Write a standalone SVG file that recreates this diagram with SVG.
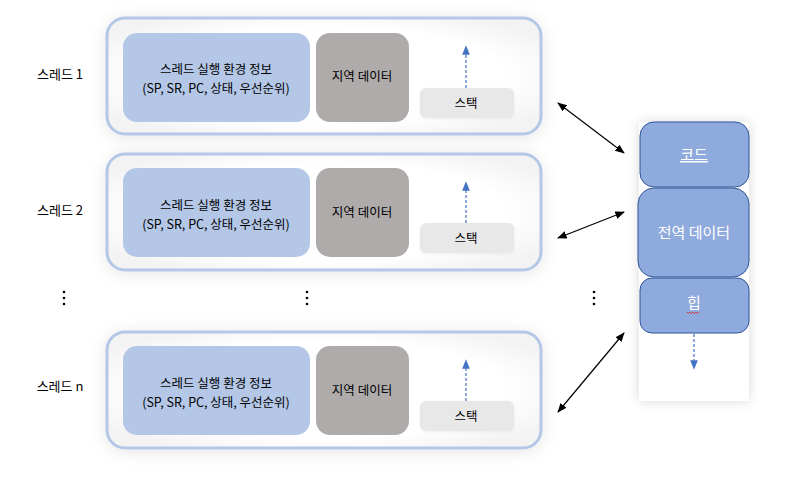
<svg xmlns="http://www.w3.org/2000/svg" width="791" height="480" viewBox="0 0 791 480">
<defs>
<filter id="soft" x="-10%" y="-25%" width="120%" height="150%">
<feDropShadow dx="0" dy="2" stdDeviation="8" flood-color="#000" flood-opacity="0.10"/>
</filter>
<filter id="soft2" x="-30%" y="-10%" width="160%" height="120%">
<feDropShadow dx="0" dy="0" stdDeviation="6" flood-color="#000" flood-opacity="0.15"/>
</filter>
<filter id="stkS" x="-10%" y="-30%" width="120%" height="160%">
<feDropShadow dx="0" dy="1" stdDeviation="1.5" flood-color="#000" flood-opacity="0.06"/>
</filter>
<radialGradient id="inner" cx="0.5" cy="0.5" r="0.6">
<stop offset="0.7" stop-color="#ffffff"/>
<stop offset="1" stop-color="#f3f3f3"/>
</radialGradient>
<marker id="blueHead" viewBox="0 0 10 10" refX="5" refY="5" markerWidth="8" markerHeight="8" orient="auto">
<path d="M0,1 L10,5 L0,9 z" fill="#4472c4"/>
</marker>
<marker id="blk" viewBox="0 0 10 10" refX="9" refY="5" markerWidth="8" markerHeight="8" orient="auto-start-reverse">
<path d="M0,1 L10,5 L0,9 z" fill="#000"/>
</marker>
</defs>
<style>
.outer{fill:url(#inner);stroke:#b4c7e7;stroke-width:3;filter:url(#soft)}
.ctx{fill:#b4c7e7}
.loc{fill:#afabab}
.stk{fill:#e8e8e8;filter:url(#stkS)}
.t{font-family:"Noto Sans CJK KR","Noto Sans",sans-serif;font-size:12.5px;fill:#000;text-anchor:middle}
.lbl{font-family:"Noto Sans CJK KR","Noto Sans",sans-serif;font-size:13px;fill:#000;text-anchor:middle}
.mem{fill:#8faadc;stroke:#2f5597;stroke-width:1}
.mt{font-family:"Noto Sans CJK KR","Noto Sans",sans-serif;font-size:15px;fill:#fff;text-anchor:middle}
.dash{stroke:#4472c4;stroke-width:1.2;stroke-dasharray:3 2;fill:none}
.conn{stroke:#000;stroke-width:1.2;fill:none}
.dot{fill:#000}
</style>
<rect width="791" height="480" fill="#ffffff"/>

<g id="thread1">
<rect class="outer" x="107" y="18" width="434" height="116" rx="18"/>
<rect class="ctx" x="123" y="33" width="187" height="89" rx="14"/>
<text class="t" x="216" y="74">스레드 실행 환경 정보</text>
<text class="t" x="216" y="93">(SP, SR, PC, 상태, 우선순위)</text>
<rect class="loc" x="316" y="33" width="93" height="89" rx="14"/>
<text class="t" x="362" y="81">지역 데이터</text>
<rect class="stk" x="420" y="88" width="94" height="30" rx="6"/>
<text class="t" x="466" y="108">스택</text>
<line class="dash" x1="466" y1="88" x2="466" y2="50" marker-end="url(#blueHead)"/>
</g>
<text class="lbl" x="60" y="79">스레드 1</text>

<g id="thread2">
<rect class="outer" x="107" y="154" width="434" height="116" rx="18"/>
<rect class="ctx" x="123" y="168" width="187" height="89" rx="14"/>
<text class="t" x="216" y="210">스레드 실행 환경 정보</text>
<text class="t" x="216" y="229">(SP, SR, PC, 상태, 우선순위)</text>
<rect class="loc" x="316" y="168" width="93" height="89" rx="14"/>
<text class="t" x="362" y="217">지역 데이터</text>
<rect class="stk" x="420" y="223" width="94" height="30" rx="6"/>
<text class="t" x="466" y="243">스택</text>
<line class="dash" x1="466" y1="223" x2="466" y2="186" marker-end="url(#blueHead)"/>
</g>
<text class="lbl" x="60" y="215">스레드 2</text>

<g id="threadn">
<rect class="outer" x="107" y="332" width="434" height="116" rx="18"/>
<rect class="ctx" x="123" y="346" width="187" height="89" rx="14"/>
<text class="t" x="216" y="388">스레드 실행 환경 정보</text>
<text class="t" x="216" y="407">(SP, SR, PC, 상태, 우선순위)</text>
<rect class="loc" x="316" y="346" width="93" height="89" rx="14"/>
<text class="t" x="362" y="395">지역 데이터</text>
<rect class="stk" x="420" y="401" width="94" height="30" rx="6"/>
<text class="t" x="466" y="421">스택</text>
<line class="dash" x1="466" y1="401" x2="466" y2="364" marker-end="url(#blueHead)"/>
</g>
<text class="lbl" x="60" y="391">스레드 n</text>

<g id="dots">
<circle class="dot" cx="64" cy="292" r="1.3"/><circle class="dot" cx="64" cy="298" r="1.3"/><circle class="dot" cx="64" cy="304" r="1.3"/>
<circle class="dot" cx="307" cy="292" r="1.3"/><circle class="dot" cx="307" cy="298" r="1.3"/><circle class="dot" cx="307" cy="304" r="1.3"/>
<circle class="dot" cx="594" cy="292" r="1.3"/><circle class="dot" cx="594" cy="298" r="1.3"/><circle class="dot" cx="594" cy="304" r="1.3"/>
</g>

<g id="memory">
<rect x="639" y="122" width="110" height="279" fill="#fff" filter="url(#soft2)"/>
<g id="code">
<rect class="mem" x="640" y="122" width="109" height="65" rx="14"/>
<text class="mt" x="694" y="160" text-decoration="underline">코드</text>
</g>
<g id="global">
<rect class="mem" x="638" y="188" width="111" height="89" rx="16"/>
<text class="mt" x="694" y="238">전역 데이터</text>
</g>
<g id="heap">
<rect class="mem" x="640" y="278" width="109" height="55" rx="12"/>
<text class="mt" x="694" y="308">힙</text>
<path d="M687,312 l1.5,1.5 l1.5,-1.5 l1.5,1.5 l1.5,-1.5 l1.5,1.5 l1.5,-1.5 l1.5,1.5 l1.5,-1.5" stroke="#e02020" stroke-width="0.8" fill="none"/>
</g>
<line class="dash" x1="694" y1="334" x2="694" y2="365" marker-end="url(#blueHead)"/>
</g>

<g id="connectors">
<line class="conn" x1="558" y1="103" x2="624" y2="153" marker-start="url(#blk)" marker-end="url(#blk)"/>
<line class="conn" x1="558" y1="238" x2="624" y2="212" marker-start="url(#blk)" marker-end="url(#blk)"/>
<line class="conn" x1="558" y1="412" x2="624" y2="333" marker-start="url(#blk)" marker-end="url(#blk)"/>
</g>
</svg>
